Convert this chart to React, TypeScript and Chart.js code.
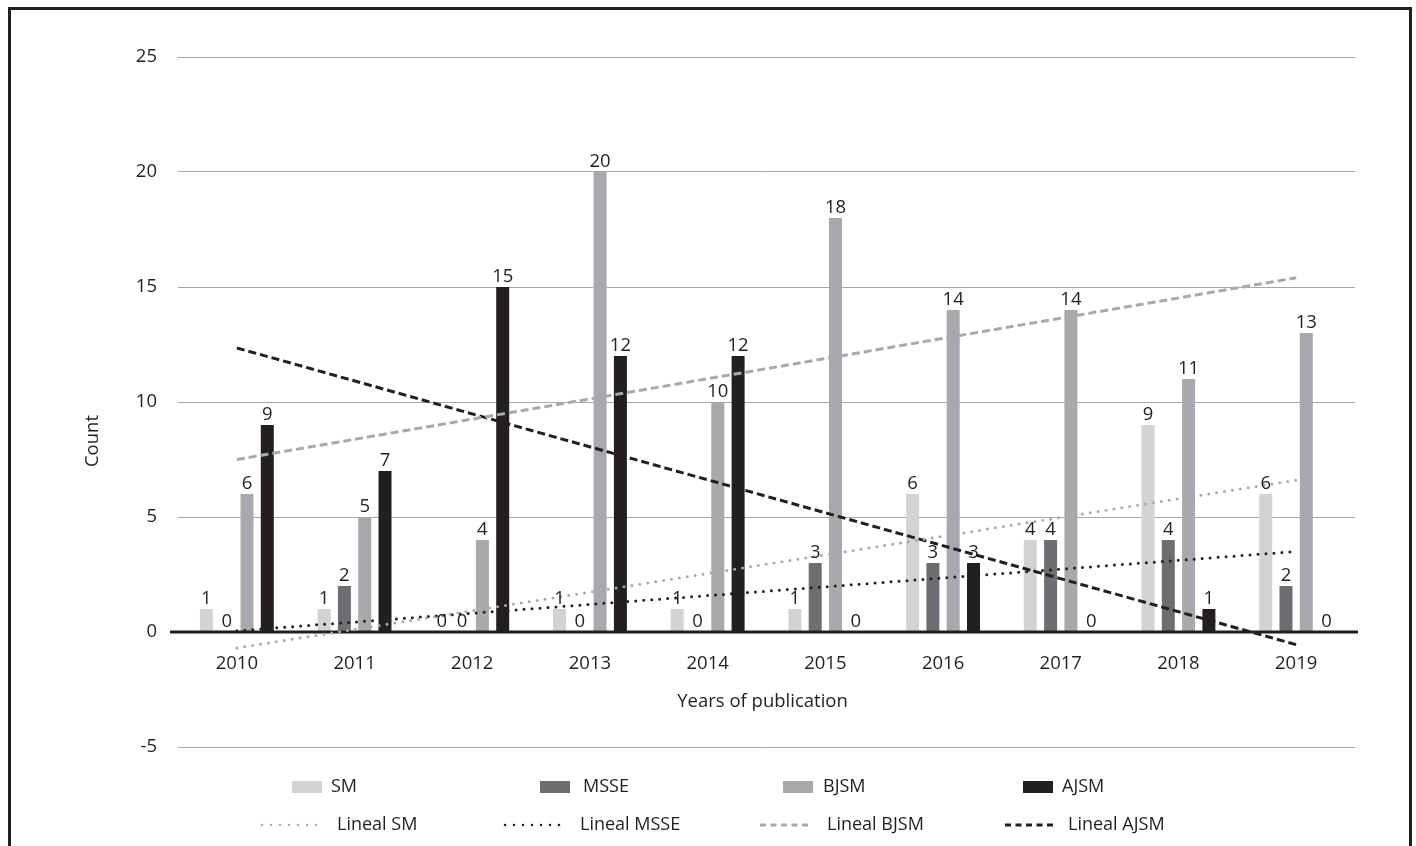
import React, { useEffect, useRef } from "react";
import { Chart, registerables } from "chart.js";

Chart.register(...registerables);

// Publications per journal and year
const years = ["2010", "2011", "2012", "2013", "2014", "2015", "2016", "2017", "2018", "2019"];
const smCounts = [1, 1, 0, 1, 1, 1, 6, 4, 9, 6];
const msseCounts = [0, 2, 0, 0, 0, 3, 3, 4, 4, 2];
const bjsmCounts = [6, 5, 4, 20, 10, 18, 14, 14, 11, 13];
const ajsmCounts = [9, 7, 15, 12, 12, 0, 3, 0, 1, 0];

// Linear trend lines: value at the first and at the last year
const smTrendEnds = [-0.7, 6.6];
const msseTrendEnds = [0.05, 3.5];
const bjsmTrendEnds = [7.5, 15.4];
const ajsmTrendEnds = [12.35, -0.55];

// Value axis range and step
const yRange = [-5, 25];
const yStep = 5;

const FONT = '"Open Sans", "Noto Sans", sans-serif';
const INK = "#231f20";
const GRID = "#a6a6a6";

const endsToSeries = (ends: number[]) =>
  years.map((_, i) => (i === 0 ? ends[0] : i === years.length - 1 ? ends[1] : null));

const barSet = (label: string, data: number[], color: string) => ({
  type: "bar" as const,
  label,
  data,
  backgroundColor: color,
  borderWidth: 0,
  categoryPercentage: 0.69,
  barPercentage: 0.64,
  order: 1,
});

const trendSet = (label: string, ends: number[], color: string, dash: number[], cap: CanvasLineCap) => ({
  type: "line" as const,
  label,
  data: endsToSeries(ends),
  borderColor: color,
  borderWidth: 3,
  borderDash: dash,
  borderCapStyle: cap,
  pointRadius: 0,
  pointHoverRadius: 0,
  spanGaps: true,
  fill: false,
  tension: 0,
  order: 0,
});

// Legend grid: two rows (bars, trend lines) by four columns
const legendBoxCols = [292, 540, 783, 1023];
const legendBoxText = [331, 583, 823, 1062];
const legendLineCols = [
  [262, 322],
  [505, 567],
  [760, 812],
  [1005, 1057],
];
const legendLineText = [337, 580, 827, 1068];

const decorPlugin = {
  id: "decor",
  // heavy zero line, drawn after the last bar series and before the trend lines
  afterDatasetDraw(chart: any, args: any) {
    if (args.index !== 0) return;
    const { ctx, chartArea, scales } = chart;
    const y0 = scales.y.getPixelForValue(0);
    ctx.save();
    ctx.strokeStyle = INK;
    ctx.lineWidth = 3;
    ctx.beginPath();
    ctx.moveTo(chartArea.left - 8, y0);
    ctx.lineTo(chartArea.right + 3, y0);
    ctx.stroke();
    ctx.restore();
  },
  afterDatasetsDraw(chart: any) {
    const { ctx } = chart;
    ctx.save();
    ctx.fillStyle = INK;
    ctx.font = `18.5px ${FONT}`;
    ctx.textAlign = "center";
    ctx.textBaseline = "alphabetic";
    chart.data.datasets.forEach((ds: any, di: number) => {
      if (ds.type !== "bar") return;
      const meta = chart.getDatasetMeta(di);
      meta.data.forEach((el: any, i: number) => {
        ctx.fillText(String(ds.data[i]), el.x, el.y - 5);
      });
    });
    ctx.restore();
  },
  afterDraw(chart: any) {
    const { ctx, chartArea, scales } = chart;
    const y0 = scales.y.getPixelForValue(0);
    ctx.save();
    ctx.fillStyle = INK;
    ctx.font = `18.5px ${FONT}`;
    ctx.textAlign = "center";
    ctx.textBaseline = "middle";
    // axis titles
    ctx.fillText("Years of publication", (chartArea.left + chartArea.right) / 2 - 4, y0 + 70);
    ctx.save();
    ctx.translate(chartArea.left - 85, (chartArea.top + chartArea.bottom) / 2 + 39);
    ctx.rotate(-Math.PI / 2);
    ctx.fillText("Count", 0, 0);
    ctx.restore();

    // legend
    const row1 = chartArea.bottom + 40;
    const row2 = chartArea.bottom + 78;
    ctx.textAlign = "left";
    ctx.font = `18px ${FONT}`;
    const bars = chart.data.datasets.filter((d: any) => d.type === "bar");
    const lines = chart.data.datasets.filter((d: any) => d.type === "line");
    bars.forEach((d: any, i: number) => {
      ctx.fillStyle = d.backgroundColor;
      ctx.fillRect(legendBoxCols[i], row1 - 6, 30, 12);
      ctx.fillStyle = INK;
      ctx.fillText(d.label, legendBoxText[i], row1);
    });
    lines.forEach((d: any, i: number) => {
      const [x1, x2] = legendLineCols[i];
      const dotted = d.borderCapStyle === "round";
      ctx.save();
      ctx.strokeStyle = d.borderColor;
      ctx.lineCap = dotted ? "round" : "butt";
      ctx.lineWidth = dotted ? 2.5 : 3;
      ctx.setLineDash(dotted ? [0, 9] : [6, 4.5]);
      ctx.beginPath();
      ctx.moveTo(x1, row2);
      ctx.lineTo(x2, row2);
      ctx.stroke();
      ctx.restore();
      ctx.fillStyle = INK;
      ctx.fillText(d.label, legendLineText[i], row2);
    });
    ctx.restore();
  },
};

export default function App() {
  const ref = useRef<HTMLCanvasElement>(null);

  useEffect(() => {
    const canvas = ref.current;
    if (!canvas) return;
    const chart = new Chart(canvas, {
      type: "bar",
      data: {
        labels: years,
        datasets: [
          barSet("SM", smCounts, "#d1d3d4"),
          barSet("MSSE", msseCounts, "#6d6e71"),
          barSet("BJSM", bjsmCounts, "#a7a9ac"),
          barSet("AJSM", ajsmCounts, "#231f20"),
          trendSet("Lineal SM", smTrendEnds, "#a7a9ac", [0, 8], "round"),
          trendSet("Lineal MSSE", msseTrendEnds, "#231f20", [0, 8], "round"),
          trendSet("Lineal BJSM", bjsmTrendEnds, "#a7a9ac", [8, 4], "butt"),
          trendSet("Lineal AJSM", ajsmTrendEnds, "#231f20", [8, 4], "butt"),
        ] as any,
      },
      options: {
        responsive: false,
        animation: false,
        devicePixelRatio: 1,
        layout: { padding: { left: 0, top: 57, right: 61, bottom: 99 } },
        plugins: {
          legend: { display: false },
          tooltip: { enabled: false },
        },
        scales: {
          x: {
            type: "category",
            position: { y: 0 } as any,
            grid: { display: false },
            border: { display: false },
            ticks: { color: INK, font: { family: FONT, size: 18.5 }, padding: 13 },
          },
          y: {
            min: yRange[0],
            max: yRange[1],
            ticks: { stepSize: yStep, color: INK, font: { family: FONT, size: 18.5 }, padding: 21 },
            grid: { color: GRID, lineWidth: 1, drawTicks: false },
            border: { display: false },
            afterFit: (scale: any) => {
              scale.width = 178;
            },
          },
        },
      },
      plugins: [decorPlugin],
    });
    return () => chart.destroy();
  }, []);

  return (
    <div
      style={{
        position: "fixed",
        left: 0,
        top: 0,
        width: 1416,
        height: 846,
        overflow: "hidden",
        background: "#fff",
      }}
    >
      <div
        style={{
          position: "absolute",
          left: 8,
          top: 7,
          width: 1398,
          height: 900,
          border: `3px solid ${INK}`,
        }}
      />
      <canvas
        ref={ref}
        width={1416}
        height={846}
        style={{ position: "absolute", left: 0, top: 0, width: 1416, height: 846 }}
      />
    </div>
  );
}
